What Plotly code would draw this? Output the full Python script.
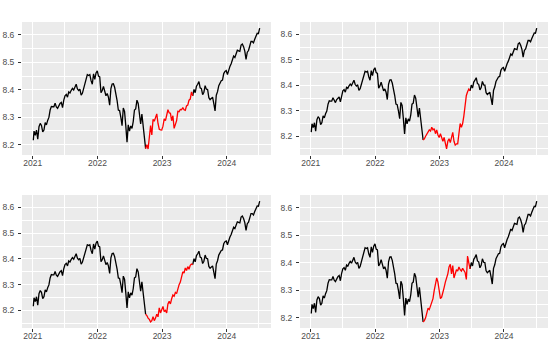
import pandas as pd
import plotly.graph_objects as go
from plotly.subplots import make_subplots

# log index, weekly closes
before = [8.216,
          8.249, 8.234, 8.253, 8.220, 8.265, 8.277, 8.270, 8.246, 8.253, 8.280, 8.272, 8.288,
          8.299, 8.326, 8.339, 8.338, 8.338, 8.351, 8.337, 8.332, 8.344, 8.350, 8.354, 8.335,
          8.362, 8.378, 8.383, 8.373, 8.392, 8.388, 8.398, 8.405, 8.399, 8.414, 8.420, 8.403,
          8.397, 8.402, 8.380, 8.387, 8.405, 8.422, 8.435, 8.455, 8.452, 8.455, 8.433, 8.420,
          8.458, 8.438, 8.461, 8.469,
          8.450, 8.447, 8.389, 8.397, 8.412, 8.394, 8.378, 8.386, 8.373, 8.344, 8.404, 8.421,
          8.422, 8.409, 8.388, 8.360, 8.326, 8.324, 8.300, 8.269, 8.333, 8.321, 8.269, 8.209,
          8.272, 8.249, 8.268, 8.259, 8.284, 8.326, 8.330, 8.362, 8.350, 8.309, 8.275, 8.311,
          8.262, 8.214, 8.185]

after = [8.378, 8.401, 8.389, 8.413, 8.420, 8.430, 8.407, 8.404, 8.382, 8.391, 8.415, 8.402,
         8.401, 8.371, 8.364, 8.368, 8.373, 8.349, 8.323, 8.380, 8.393, 8.415, 8.425, 8.433,
         8.435, 8.459, 8.467, 8.470,
         8.455, 8.473, 8.485, 8.495, 8.509, 8.523, 8.518, 8.535, 8.544, 8.542, 8.540, 8.563,
         8.567, 8.557, 8.541, 8.511, 8.537, 8.543, 8.561, 8.576, 8.576, 8.571, 8.584, 8.600,
         8.606, 8.605, 8.625]

# the four versions of the gap Oct 2022 - Jun 2023
red_1 = [8.200, 8.184, 8.230, 8.269, 8.235, 8.292, 8.285, 8.300, 8.312, 8.277, 8.256, 8.254,
         8.253, 8.267, 8.294, 8.287, 8.311, 8.327, 8.316, 8.314, 8.287, 8.305, 8.259, 8.273,
         8.287, 8.321, 8.320, 8.328, 8.327, 8.335, 8.327, 8.325, 8.341, 8.344, 8.362, 8.366,
         8.392]
red_2 = [8.190, 8.200, 8.210, 8.215, 8.225, 8.220, 8.235, 8.225, 8.230, 8.210, 8.225, 8.205,
         8.195, 8.210, 8.190, 8.180, 8.195, 8.175, 8.150, 8.180, 8.190, 8.175, 8.200, 8.215,
         8.180, 8.165, 8.170, 8.170, 8.210, 8.250, 8.235, 8.250, 8.280, 8.320, 8.360, 8.375,
         8.385]
red_3 = [8.180, 8.170, 8.165, 8.155, 8.160, 8.175, 8.160, 8.170, 8.185, 8.175, 8.210, 8.190,
         8.205, 8.215, 8.195, 8.200, 8.190, 8.225, 8.235, 8.225, 8.245, 8.260, 8.255, 8.270,
         8.265, 8.290, 8.300, 8.310, 8.330, 8.350, 8.345, 8.365, 8.355, 8.370, 8.360, 8.375,
         8.380]
red_4 = [8.190, 8.200, 8.225, 8.235, 8.230, 8.245, 8.255, 8.270, 8.300, 8.325, 8.345, 8.330,
         8.290, 8.270, 8.275, 8.290, 8.310, 8.330, 8.345, 8.360, 8.385, 8.395, 8.360, 8.390,
         8.345, 8.365, 8.375, 8.370, 8.385, 8.375, 8.370, 8.380, 8.370, 8.365, 8.340, 8.425,
         8.400]
reds = [red_1, red_2, red_3, red_4]

# weekly dates (Fridays)
d_before = [pd.Timestamp("2021-01-04")] + list(pd.date_range("2021-01-08", periods=len(before) - 1, freq="W-FRI"))
d_red = list(pd.date_range("2022-10-07", periods=len(red_1), freq="W-FRI"))
d_after = list(pd.date_range("2023-06-23", periods=len(after), freq="W-FRI"))

fig = make_subplots(rows=2, cols=2)

font = "Liberation Sans, Arial, sans-serif"
xdom = [[22 / 555, 271 / 555], [300 / 555, 548 / 555]]
ydom = [[1 - 155 / 347, 1 - 22 / 347], [1 - 328 / 347, 1 - 195 / 347]]

# ggplot style 5% expansion
t0, t1 = d_before[0], d_after[-1]
xpad = (t1 - t0) * 0.05
xrange = [t0 - xpad, t1 + xpad]

for i, red in enumerate(reds):
    r, c = i // 2 + 1, i % 2 + 1
    fig.add_trace(go.Scatter(x=d_before, y=before, mode="lines",
                             line=dict(color="black", width=1.3)), row=r, col=c)
    fig.add_trace(go.Scatter(x=d_after, y=after, mode="lines",
                             line=dict(color="black", width=1.3)), row=r, col=c)
    fig.add_trace(go.Scatter(x=[d_before[-1]] + d_red + [d_after[0]],
                             y=[before[-1]] + red + [after[0]], mode="lines",
                             line=dict(color="red", width=1.3)), row=r, col=c)

    allv = before + red + after
    lo, hi = min(allv), max(allv)
    ypad = (hi - lo) * 0.05

    fig.update_xaxes(domain=xdom[c - 1], range=xrange, type="date",
                     tick0="2021-01-01", dtick="M12", tickformat="%Y",
                     minor=dict(dtick="M6", tick0="2021-01-01", showgrid=True,
                                gridcolor="white", gridwidth=0.5),
                     row=r, col=c)
    fig.update_yaxes(domain=ydom[r - 1], range=[lo - ypad, hi + ypad],
                     tick0=8.0, dtick=0.1, tickformat=".1f",
                     minor=dict(dtick=0.05, tick0=8.0, showgrid=True,
                                gridcolor="white", gridwidth=0.5),
                     row=r, col=c)

tickfont = dict(family=font, size=8.5, color="#4D4D4D")
fig.update_xaxes(showgrid=True, gridcolor="white", gridwidth=1, zeroline=False,
                 showline=False, ticks="outside", ticklen=3, tickcolor="#333333",
                 tickwidth=1, tickfont=tickfont, ticklabelstandoff=-3,
                 automargin=False)
fig.update_yaxes(showgrid=True, gridcolor="white", gridwidth=1, zeroline=False,
                 showline=False, ticks="outside", ticklen=3, tickcolor="#333333",
                 tickwidth=1, tickfont=tickfont, ticklabelstandoff=2,
                 automargin=False)

fig.update_layout(width=555, height=347, showlegend=False,
                  margin=dict(l=0, r=0, t=0, b=0),
                  paper_bgcolor="white", plot_bgcolor="#EBEBEB")

# page body has a default 8px margin; drop it so the figure sits at 0,0
fig.write_html("out.html", config={"displayModeBar": False},
               post_script="document.body.style.margin='0';")
